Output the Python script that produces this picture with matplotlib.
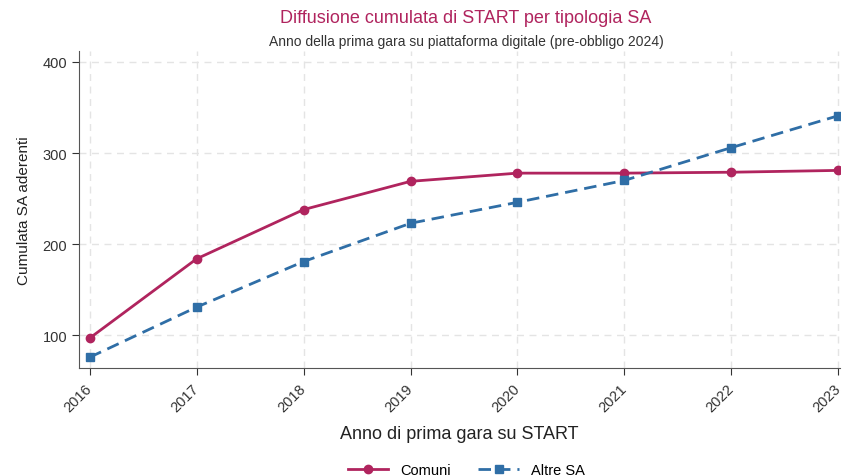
import matplotlib.pyplot as plt

plt.rcParams['font.family'] = ['Liberation Sans', 'DejaVu Sans']

anni = [2016, 2017, 2018, 2019, 2020, 2021, 2022, 2023]
comuni = [97, 184, 238, 269, 278, 278, 279, 281]
altre_sa = [76, 131, 181, 223, 246, 270, 306, 341]

col_comuni = '#b0245e'
col_altre = '#2f6ea6'

fig = plt.figure(figsize=(8.46, 4.77), dpi=100)
ax = fig.add_axes([0.0934, 0.226, 0.9, 0.665])

ax.plot(anni, comuni, color=col_comuni, lw=2, marker='o', ms=6, label='Comuni')
ax.plot(anni, altre_sa, color=col_altre, lw=2, ls=(0, (4.5, 2.5)), marker='s', ms=5.5,
        label='Altre SA')

ax.set_xlim(2015.9, 2023.02)
ax.set_ylim(64, 412)
ax.set_xticks(anni)
ax.set_xticklabels([str(a) for a in anni], rotation=45, ha='right', va='center',
                   rotation_mode='anchor')
ax.set_yticks([100, 200, 300, 400])
ax.tick_params(colors='#333333', labelsize=10.5, length=5)
ax.tick_params(axis='x', pad=8)
ax.grid(True, ls=(0, (5, 4)), color='#e4e4e4', lw=1)
ax.set_axisbelow(True)
for s in ['top', 'right']:
    ax.spines[s].set_visible(False)
for s in ['left', 'bottom']:
    ax.spines[s].set_color('#555555')

ax.set_ylabel('Cumulata SA aderenti', fontsize=11, color='#222222', labelpad=8)
ax.set_xlabel('Anno di prima gara su START', fontsize=13, color='#222222', labelpad=8)

fig.text(0.551, 0.952, 'Diffusione cumulata di START per tipologia SA', ha='center',
         fontsize=13, color=col_comuni)
fig.text(0.551, 0.903, 'Anno della prima gara su piattaforma digitale (pre-obbligo 2024)',
         ha='center', fontsize=10, color='#333333')

fig.legend(loc='lower center', bbox_to_anchor=(0.551, -0.03), ncol=2, frameon=False,
           fontsize=10.5, handlelength=2.8, columnspacing=1.9)

fig.savefig('out.png', dpi=100)
